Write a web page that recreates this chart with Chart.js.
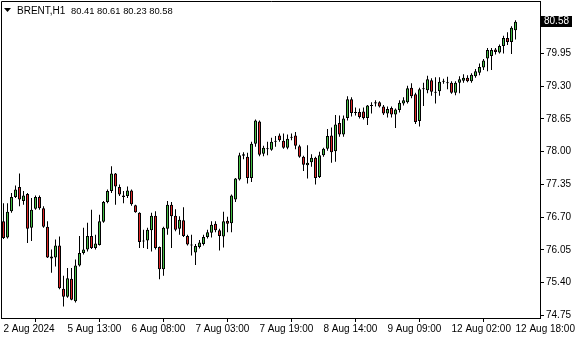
<!DOCTYPE html>
<html><head><meta charset="utf-8">
<script src="https://cdn.jsdelivr.net/npm/chart.js@4.4.1/dist/chart.umd.min.js"></script>
<style>html,body{margin:0;padding:0;background:#fff;overflow:hidden}#wrap{position:relative;width:580px;height:340px}canvas{display:block}</style>
</head><body><div id="wrap"><canvas id="c" width="580" height="340"></canvas></div>
<script>
const symbolTitle = 'BRENT,H1';
const opens = [76.62,76.30,76.82,77.10,77.30,77.02,77.16,76.49,76.87,77.10,76.88,76.51,75.92,75.90,76.14,75.28,75.12,75.48,75.03,75.74,75.99,76.06,76.33,76.09,76.15,76.61,77.00,77.22,77.57,77.30,77.13,77.12,77.23,76.94,76.79,76.24,76.24,76.44,76.73,76.11,75.67,76.47,76.95,76.73,76.47,76.64,76.33,76.16,76.00,76.11,76.17,76.31,76.39,76.57,76.44,76.32,76.63,76.58,77.05,77.45,77.92,77.90,77.48,78.16,78.60,77.96,78.07,78.04,78.20,78.32,78.22,78.08,78.28,78.32,78.11,77.90,77.73,77.79,77.88,77.50,77.93,78.06,78.32,78.01,78.57,78.34,78.67,79.04,78.77,78.79,78.80,78.67,78.91,78.96,78.98,78.90,78.76,78.87,78.74,78.83,78.96,78.98,79.27,79.14,78.61,79.24,79.22,79.42,79.19,79.20,79.39,79.38,79.37,79.17,79.37,79.41,79.47,79.40,79.50,79.57,79.67,79.85,79.90,80.03,79.97,80.10,80.26,80.18,80.41];
const highs = [76.98,76.98,77.18,77.33,77.57,77.22,77.18,77.08,77.13,77.13,76.92,76.62,76.06,76.26,76.32,75.54,75.69,75.69,75.86,76.33,76.49,76.59,76.85,76.35,76.75,77.02,77.25,77.71,77.58,77.35,77.22,77.31,77.25,76.95,76.80,76.45,76.49,76.79,76.82,76.12,76.51,77.02,77.00,76.86,76.72,76.90,76.35,76.35,76.17,76.25,76.35,76.45,76.62,76.62,76.47,76.81,76.71,77.15,77.48,77.98,77.99,77.98,78.20,78.64,78.62,78.12,78.20,78.28,78.31,78.36,78.36,78.34,78.36,78.39,78.14,77.92,78.13,77.95,77.90,78.00,78.08,78.45,78.48,78.73,78.72,78.72,79.10,79.08,78.88,78.86,78.88,78.93,78.98,79.02,79.00,78.93,78.90,78.90,78.86,79.02,79.08,79.31,79.36,79.17,79.27,79.37,79.51,79.46,79.48,79.48,79.45,79.49,79.40,79.40,79.50,79.54,79.52,79.56,79.64,79.75,79.84,80.06,80.06,80.06,80.13,80.30,80.37,80.49,80.61];
const lows = [76.27,76.28,76.79,77.08,76.92,76.95,76.19,76.23,76.85,76.85,76.49,75.89,75.60,75.72,75.27,74.93,75.10,75.05,75.01,75.72,75.96,76.02,76.07,76.06,76.14,76.59,76.98,77.18,76.95,77.12,76.98,77.08,76.93,76.79,76.09,76.09,76.07,76.02,76.06,75.47,75.54,76.35,76.09,76.42,76.35,76.31,76.14,75.94,75.75,76.08,76.14,76.28,76.30,76.40,76.04,76.10,76.40,76.40,77.00,77.43,77.85,77.37,77.40,78.10,77.91,77.91,77.93,78.02,78.10,78.20,78.06,78.05,78.23,78.05,77.88,77.62,77.47,77.70,77.35,77.48,77.90,78.02,77.78,77.80,78.30,78.30,78.62,78.70,78.72,78.66,78.64,78.53,78.76,78.90,78.88,78.73,78.68,78.68,78.47,78.78,78.92,78.96,79.06,78.55,78.50,78.91,79.16,79.11,78.96,79.11,79.35,79.24,79.15,79.12,79.16,79.37,79.38,79.37,79.47,79.52,79.62,79.60,79.62,79.93,79.95,79.95,80.12,79.94,80.23];
const closes = [76.29,76.81,77.10,77.25,77.05,77.13,76.47,76.85,77.10,76.88,76.51,75.90,75.88,76.14,75.29,75.12,75.49,75.06,75.74,75.99,76.06,76.33,76.09,76.18,76.62,77.00,77.22,77.57,77.31,77.15,77.10,77.23,76.96,76.80,76.21,76.22,76.45,76.73,76.09,75.67,76.49,76.95,76.72,76.45,76.65,76.33,76.16,76.14,76.13,76.20,76.31,76.40,76.55,76.44,76.33,76.62,76.57,77.13,77.47,77.93,77.95,77.48,78.16,78.62,77.94,78.08,78.05,78.20,78.22,78.23,78.08,78.26,78.30,78.12,77.90,77.74,77.78,77.88,77.48,77.93,78.06,78.31,77.99,78.54,78.34,78.66,79.04,78.77,78.78,78.69,78.67,78.92,78.93,78.98,78.90,78.76,78.85,78.74,78.84,78.97,79.02,79.26,79.10,78.59,79.24,79.25,79.44,79.19,79.17,79.39,79.40,79.36,79.17,79.37,79.44,79.47,79.40,79.53,79.60,79.68,79.81,80.02,80.02,79.98,80.10,80.26,80.18,80.46,80.58];
const xTickIndex = [0,16,32,48,64,80,96,112,128];
const xTickLabels = ['2 Aug 2024','5 Aug 13:00','6 Aug 08:00','7 Aug 03:00','7 Aug 19:00','8 Aug 14:00','9 Aug 09:00','12 Aug 02:00','12 Aug 18:00'];
const yTickValues = [74.75,75.40,76.05,76.70,77.35,78.00,78.65,79.30,79.95];

const FONT = 'Liberation Sans';
const UP = '#44BF44', DOWN = '#DD2626';
const last = closes.length - 1;

const bodyData = opens.map((o, i) => ({x: i, y: [o, closes[i]]}));
const wickData = lows.map((l, i) => ({x: i, y: [l, highs[i]]}));

const framePlugin = {
  id: 'frame',
  afterDraw(chart) {
    const ctx = chart.ctx, ca = chart.chartArea, ys = chart.scales.y;
    ctx.save();
    ctx.strokeStyle = '#000'; ctx.lineWidth = 1;
    ctx.beginPath();
    const lx = Math.floor(ca.left) + 0.5, ty = Math.floor(ca.top) + 0.5;
    ctx.moveTo(lx, ty); ctx.lineTo(lx, Math.round(ca.bottom) + 1);
    ctx.moveTo(lx, ty); ctx.lineTo(Math.round(ca.right) + 1, ty);
    ctx.stroke();
    // header
    ctx.fillStyle = '#000';
    ctx.beginPath(); ctx.moveTo(4, 8); ctx.lineTo(11, 8); ctx.lineTo(7.5, 12); ctx.closePath(); ctx.fill();
    ctx.textBaseline = 'alphabetic'; ctx.textAlign = 'left';
    ctx.font = '10px "' + FONT + '"';
    ctx.fillText(symbolTitle, 17, 14);
    const vals = [opens[last], highs[last], lows[last], closes[last]].map(v => v.toFixed(2)).join(' ');
    ctx.font = '9.4px "' + FONT + '"';
    ctx.fillText(vals, 71, 14);
    // current price tag
    const py = ys.getPixelForValue(closes[last]);
    const bx = Math.round(ca.right) + 1;
    ctx.fillStyle = '#000';
    ctx.fillRect(bx, Math.round(py) - 6, 31, 11);
    ctx.fillStyle = '#fff';
    ctx.font = '10px "' + FONT + '"';
    ctx.textBaseline = 'middle';
    ctx.fillText(closes[last].toFixed(2), bx + 3, Math.round(py) - 0.5);
    ctx.restore();
  }
};

new Chart(document.getElementById('c'), {
  type: 'bar',
  data: {
    datasets: [
      {label: 'body', data: bodyData, backgroundColor: opens.map((o, i) => closes[i] >= o ? UP : DOWN),
       borderColor: '#000', borderWidth: 1, borderSkipped: false, barThickness: 3, minBarLength: 1,
       grouped: false, inflateAmount: 0},
      {label: 'wick', data: wickData, backgroundColor: '#000', borderWidth: 0, barThickness: 1,
       grouped: false, inflateAmount: 0}
    ]
  },
  options: {
    responsive: false, animation: false, devicePixelRatio: 1,
    layout: {padding: {left: 1, top: 1, right: 0, bottom: 0}},
    plugins: {legend: {display: false}, tooltip: {enabled: false}},
    scales: {
      x: {
        type: 'linear', bounds: 'data', min: -0.625, max: 134.125, offset: false,
        afterBuildTicks: s => { s.ticks = xTickIndex.map(v => ({value: v})); },
        afterFit: s => { s.height = 22; s.paddingLeft = 0; s.paddingRight = 0; },
        ticks: {autoSkip: false, maxRotation: 0, minRotation: 0, align: 'start', padding: 1, color: '#000',
                font: {family: FONT, size: 10},
                callback: v => { const k = xTickIndex.indexOf(v); return k >= 0 ? xTickLabels[k] : ''; }},
        grid: {drawOnChartArea: false, drawTicks: true, tickLength: 4, color: '#000'},
        border: {display: true, color: '#000', width: 1}
      },
      y: {
        type: 'linear', position: 'right', bounds: 'data', min: 74.70, max: 80.992,
        afterBuildTicks: s => { s.ticks = yTickValues.map(v => ({value: v})); },
        afterFit: s => { s.width = 40; s.paddingTop = 0; s.paddingBottom = 0; },
        ticks: {color: '#000', padding: 2, font: {family: FONT, size: 10}, callback: v => Number(v).toFixed(2)},
        grid: {drawOnChartArea: false, drawTicks: true, tickLength: 4, color: '#000'},
        border: {display: true, color: '#000', width: 1}
      }
    }
  },
  plugins: [framePlugin]
});
</script></body></html>
